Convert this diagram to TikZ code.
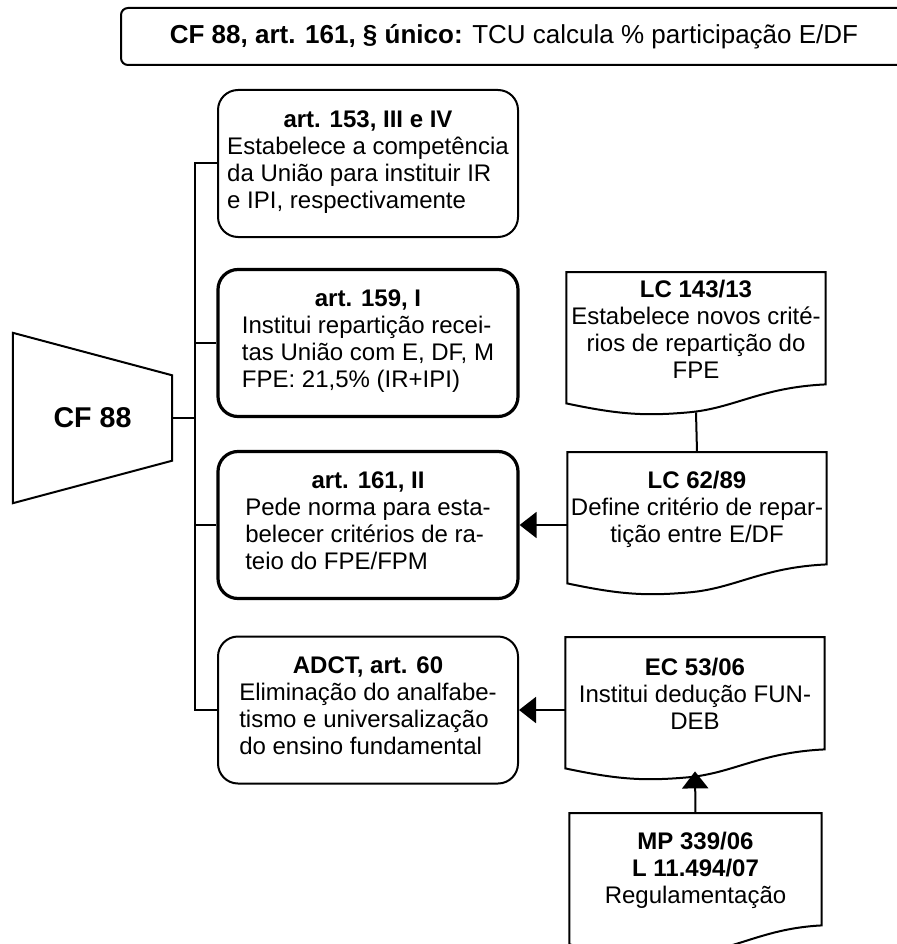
\documentclass[tikz,border=0pt]{standalone}
\usepackage{fontspec}
\setmainfont{Liberation Sans}
\usetikzlibrary{arrows.meta}

\begin{document}
\begin{tikzpicture}[x=1pt,y=-1pt]

\tikzset{art/.style = {shape=rectangle,draw,rounded corners=20pt,line width=2pt,minimum width=300pt,minimum height=147pt,inner sep=0pt,align=center,font=\fontsize{24}{27}\selectfont}}
\tikzset{artthick/.style = {art,line width=3.2pt}}
\tikzset{doc/.style = {anchor=north,minimum width=259pt,minimum height=114pt,inner sep=0pt,align=center,font=\fontsize{24}{27}\selectfont}}
\tikzset{edge/.style = {line width=2pt}}
\tikzset{arrow/.style = {edge,-{Triangle[length=17pt,width=26pt]}}}

\useasboundingbox (0,0) rectangle (896,944);

% header
\node[draw,rounded corners=7pt,line width=2pt,minimum width=786pt,minimum height=57pt,font=\fontsize{26}{30}\selectfont] (tcu) at (514,36.5) {\textbf{CF 88, art. 161, § único:} TCU calcula \% participação E/DF};

% vertices
\node[minimum width=159pt,minimum height=170pt,font=\bfseries\fontsize{28.6}{34}\selectfont] (cf88) at (92.5,418) {CF 88};
\draw[edge] (cf88.north west) -- ([yshift=-42.5pt]cf88.north east) -- ([yshift=42.5pt]cf88.south east) -- (cf88.south west) -- cycle;

\node[art] (art153) at (368,163.5) {\textbf{art. 153, III e IV}\\\begin{tabular}[t]{@{}l@{}}Estabelece a competência\\da União para instituir IR\\e IPI, respectivamente\end{tabular}};
\node[artthick] (art159) at (368,343) {\textbf{art. 159, I}\\\begin{tabular}[t]{@{}l@{}}Institui repartição recei-\\tas União com E, DF, M\\FPE: 21,5\% (IR+IPI)\end{tabular}};
\node[artthick] (art161) at (368,525) {\textbf{art. 161, II}\\\begin{tabular}[t]{@{}l@{}}Pede norma para esta-\\belecer critérios de ra-\\teio do FPE/FPM\end{tabular}};
\node[art] (adct) at (368,710) {\textbf{ADCT, art. 60}\\\begin{tabular}[t]{@{}l@{}}Eliminação do analfabe-\\tismo e universalização\\do ensino fundamental\end{tabular}};

% documents
\node[doc] (lc143) at (696,272) {\textbf{LC 143/13}\\Estabelece novos crité-\\rios de repartição do\\FPE};
\node[doc] (lc62) at (697,452) {\textbf{LC 62/89}\\Define critério de repar-\\tição entre E/DF};
\node[doc] (ec53) at (695,637) {\textbf{EC 53/06}\\Institui dedução FUN-\\DEB};
\node[doc,minimum width=252pt] (mp339) at (695.5,813) {\textbf{MP 339/06}\\\textbf{L 11.494/07}\\Regulamentação};
\foreach \n in {lc143,lc62,ec53,mp339}
  \draw[edge] ([yshift=-17pt]\n.south west) -- (\n.north west) -- (\n.north east) -- ([yshift=2pt]\n.south east)
    .. controls ([xshift=194pt,yshift=-1pt]\n.south west) and ([xshift=168pt,yshift=-22pt]\n.south west) .. ([xshift=121.7pt,yshift=-26pt]\n.south west)
    .. controls ([xshift=78pt,yshift=-29.8pt]\n.south west) and ([xshift=52pt,yshift=-28pt]\n.south west) .. ([yshift=-17pt]\n.south west) -- cycle;

%edges
\coordinate (bus) at (195,418);
\draw[edge] (cf88.east) -- (bus);
\draw[edge] (art153.west) -| (bus) |- (adct.west);
\draw[edge] (bus |- art159.west) -- (art159.west);
\draw[edge] (bus |- art161.west) -- (art161.west);
\draw[arrow] (lc62.west |- art161.east) -- (art161.east);
\draw[arrow] (ec53.west |- adct.east) -- (adct.east);
\draw[edge] ([yshift=-26pt]lc143.south) -- (lc62.north);
\draw[arrow] (mp339.north) -- ([yshift=-20pt]ec53.south);
\end{tikzpicture}
\end{document}
